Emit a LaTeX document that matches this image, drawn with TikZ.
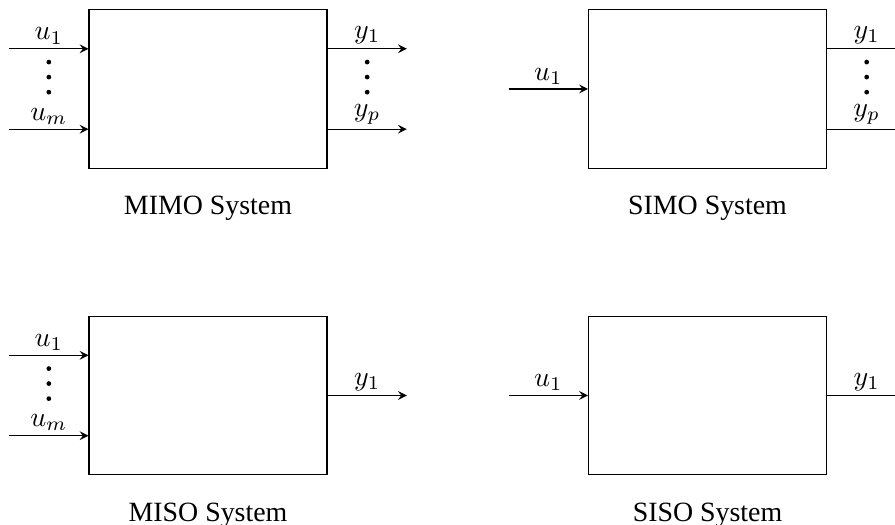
\documentclass[tikz,border=0pt]{standalone}
\usepackage{fontspec}
\setmainfont{Liberation Serif}
\begin{document}
\begin{tikzpicture}[
  >=stealth,
  sysbox/.style={draw, minimum width=3cm, minimum height=2cm, inner sep=0pt},
  sig/.style={->},
  lab/.style={above, inner sep=1.5pt},
  dotmark/.style={circle, fill, inner sep=0pt, minimum size=1.7pt},
  caption/.style={inner sep=0pt},
]
\useasboundingbox (0,0) rectangle (11.286,-6.62);

% ---------------- MIMO ----------------
\node[sysbox] (mimo) at (2.623,-1.122) {};
\coordinate (mimoi1) at ([shift={(-1,-0.5)}]mimo.north west);
\coordinate (mimoim) at ([shift={(-1,0.5)}]mimo.south west);
\coordinate (mimoo1) at ([shift={(1,-0.5)}]mimo.north east);
\coordinate (mimoop) at ([shift={(1,0.5)}]mimo.south east);
\draw[sig] (mimoi1) -- node[lab]{$u_1$} (mimoi1 -| mimo.west);
\draw[sig] (mimoim) -- node[lab]{$u_m$} (mimoim -| mimo.west);
\draw[sig] (mimoo1 -| mimo.east) -- node[lab]{$y_1$} (mimoo1);
\draw[sig] (mimoop -| mimo.east) -- node[lab]{$y_p$} (mimoop);
\foreach \d/\y in {1/0.668, 2/0.857, 3/1.047} {
  \node[dotmark] (mimoid\d) at ([shift={(-0.5,-\y)}]mimo.north west) {};
  \node[dotmark] (mimood\d) at ([shift={(0.5,-\y)}]mimo.north east) {};
}
\node[caption] (mimot) at ([yshift=-0.5cm]mimo.south) {MIMO System};

% ---------------- SIMO ----------------
\node[sysbox] (simo) at (8.922,-1.122) {};
\coordinate (simoi1) at ([xshift=-1cm]simo.west);
\coordinate (simoo1) at ([shift={(1,-0.5)}]simo.north east);
\coordinate (simoop) at ([shift={(1,0.5)}]simo.south east);
\draw[sig] (simoi1) -- node[lab]{$u_1$} (simo.west);
\draw[sig] (simoo1 -| simo.east) -- node[lab]{$y_1$} (simoo1);
\draw[sig] (simoop -| simo.east) -- node[lab]{$y_p$} (simoop);
\foreach \d/\y in {1/0.668, 2/0.857, 3/1.047} {
  \node[dotmark] (simood\d) at ([shift={(0.5,-\y)}]simo.north east) {};
}
\node[caption] (simot) at ([yshift=-0.5cm]simo.south) {SIMO System};

% ---------------- MISO ----------------
\node[sysbox] (miso) at (2.623,-4.987) {};
\coordinate (misoi1) at ([shift={(-1,-0.5)}]miso.north west);
\coordinate (misoim) at ([shift={(-1,0.5)}]miso.south west);
\coordinate (misoo1) at ([xshift=1cm]miso.east);
\draw[sig] (misoi1) -- node[lab]{$u_1$} (misoi1 -| miso.west);
\draw[sig] (misoim) -- node[lab]{$u_m$} (misoim -| miso.west);
\draw[sig] (miso.east) -- node[lab]{$y_1$} (misoo1);
\foreach \d/\y in {1/0.668, 2/0.857, 3/1.047} {
  \node[dotmark] (misoid\d) at ([shift={(-0.5,-\y)}]miso.north west) {};
}
\node[caption] (misot) at ([yshift=-0.5cm]miso.south) {MISO System};

% ---------------- SISO ----------------
\node[sysbox] (siso) at (8.922,-4.987) {};
\coordinate (sisoi1) at ([xshift=-1cm]siso.west);
\coordinate (sisoo1) at ([xshift=1cm]siso.east);
\draw[sig] (sisoi1) -- node[lab]{$u_1$} (siso.west);
\draw[sig] (siso.east) -- node[lab]{$y_1$} (sisoo1);
\node[caption] (sisot) at ([yshift=-0.5cm]siso.south) {SISO System};
\end{tikzpicture}
\end{document}
